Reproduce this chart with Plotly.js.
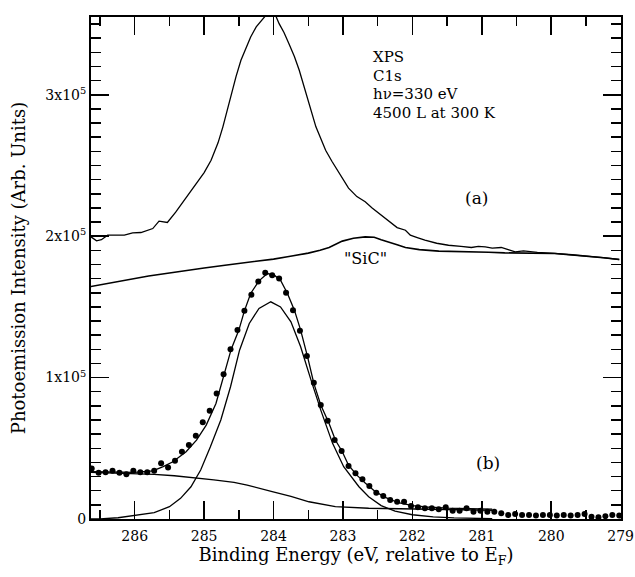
<!DOCTYPE html>
<html>
<head>
<meta charset="utf-8">
<script src="https://cdn.plot.ly/plotly-3.0.1.min.js"></script>
<style>html,body{margin:0;padding:0;background:#fff;}#chart{width:635px;height:577px;}</style>
</head>
<body>
<div id="chart"></div>
<script>
// (a) total C1s spectrum, 4500 L
const aX = [286.63,286.55,286.48,286.39,286.15,286.03,285.91,285.74,285.65,285.59,285.53,285.41,285.35,285.29,285.20,285.11,285.00,284.90,284.80,284.73,284.61,284.54,284.47,284.40,284.33,284.25,284.16,284.08,284.03,283.97,283.92,283.85,283.78,283.70,283.63,283.57,283.51,283.45,283.39,283.32,283.25,283.16,283.08,283.00,282.92,282.80,282.68,282.58,282.48,282.35,282.22,282.10,282.03,281.93,281.82,281.65,281.48,281.30,281.15,281.05,280.95,280.85,280.72,280.62,280.52,280.40,280.20,279.95,279.70,279.47,279.25,279.02];
const aY = [1.995e5,1.967e5,1.975e5,2.007e5,2.007e5,2.023e5,2.026e5,2.054e5,2.106e5,2.100e5,2.097e5,2.17e5,2.21e5,2.25e5,2.31e5,2.37e5,2.45e5,2.537e5,2.66e5,2.773e5,3.008e5,3.13e5,3.244e5,3.33e5,3.409e5,3.48e5,3.538e5,3.58e5,3.59e5,3.56e5,3.503e5,3.44e5,3.362e5,3.27e5,3.173e5,3.07e5,2.961e5,2.87e5,2.773e5,2.69e5,2.608e5,2.53e5,2.466e5,2.40e5,2.34e5,2.28e5,2.243e5,2.20e5,2.16e5,2.11e5,2.061e5,2.042e5,2.007e5,1.99e5,1.972e5,1.95e5,1.936e5,1.928e5,1.92e5,1.928e5,1.925e5,1.915e5,1.92e5,1.905e5,1.889e5,1.896e5,1.885e5,1.878e5,1.868e5,1.859e5,1.848e5,1.835e5];

// "SiC" reference spectrum
const sicX = [286.65,286.40,286.10,285.80,285.50,285.24,285.00,284.70,284.28,284.00,283.80,283.50,283.33,283.20,283.01,282.85,282.68,282.55,282.45,282.34,282.22,282.10,281.90,281.62,281.40,281.15,280.90,280.67,280.40,280.20,279.95,279.70,279.47,279.25,279.02];
const sicY = [1.642e5,1.665e5,1.694e5,1.718e5,1.740e5,1.760e5,1.775e5,1.795e5,1.818e5,1.838e5,1.854e5,1.880e5,1.901e5,1.92e5,1.965e5,1.985e5,1.995e5,1.992e5,1.975e5,1.96e5,1.94e5,1.92e5,1.905e5,1.894e5,1.890e5,1.889e5,1.886e5,1.882e5,1.880e5,1.882e5,1.878e5,1.868e5,1.859e5,1.848e5,1.835e5];

// (b) difference spectrum data points
const bDotX = [286.62,286.52,286.42,286.32,286.22,286.12,286.02,285.92,285.82,285.72,285.62,285.52,285.42,285.32,285.22,285.12,285.02,284.92,284.82,284.72,284.62,284.52,284.42,284.32,284.22,284.12,284.02,283.92,283.82,283.72,283.62,283.52,283.42,283.32,283.22,283.12,283.02,282.92,282.82,282.72,282.62,282.52,282.42,282.32,282.22,282.12,282.02,281.92,281.82,281.72,281.62,281.52,281.42,281.32,281.22,281.12,281.02,280.92,280.82,280.72,280.62,280.52,280.42,280.32,280.22,280.12,280.02,279.92,279.82,279.72,279.62,279.52,279.42,279.32,279.22,279.12,279.02];
const bDotY = [0.358e5,0.327e5,0.330e5,0.341e5,0.327e5,0.316e5,0.341e5,0.330e5,0.330e5,0.341e5,0.394e5,0.365e5,0.412e5,0.476e5,0.523e5,0.589e5,0.685e5,0.765e5,0.888e5,1.023e5,1.200e5,1.336e5,1.472e5,1.585e5,1.680e5,1.741e5,1.724e5,1.701e5,1.600e5,1.477e5,1.331e5,1.152e5,0.963e5,0.806e5,0.695e5,0.558e5,0.481e5,0.375e5,0.323e5,0.281e5,0.233e5,0.186e5,0.163e5,0.134e5,0.122e5,0.122e5,0.092e5,0.083e5,0.076e5,0.076e5,0.069e5,0.083e5,0.059e5,0.059e5,0.076e5,0.052e5,0.059e5,0.052e5,0.052e5,0.040e5,0.028e5,0.035e5,0.028e5,0.028e5,0.024e5,0.028e5,0.028e5,0.024e5,0.028e5,0.024e5,0.028e5,0.035e5,0.016e5,0.012e5,0.020e5,0.028e5,0.024e5];

// (b) fit curve
const fitX = [286.63,286.30,286.00,285.74,285.59,285.45,285.26,285.11,284.97,284.83,284.78,284.71,284.61,284.50,284.42,284.33,284.21,284.09,283.99,283.90,283.80,283.70,283.61,283.51,283.42,283.32,283.20,283.11,283.01,282.92,282.80,282.68,282.55,282.40,282.20,282.00,281.80,281.50,281.20,280.85];
const fitY = [0.334e5,0.330e5,0.330e5,0.341e5,0.370e5,0.405e5,0.476e5,0.558e5,0.664e5,0.817e5,0.90e5,1.025e5,1.201e5,1.336e5,1.472e5,1.595e5,1.684e5,1.736e5,1.724e5,1.689e5,1.595e5,1.477e5,1.336e5,1.147e5,0.959e5,0.806e5,0.676e5,0.558e5,0.476e5,0.38e5,0.31e5,0.255e5,0.20e5,0.155e5,0.115e5,0.095e5,0.085e5,0.077e5,0.072e5,0.070e5];

// (b) fitted peak component
const compX = [286.63,286.50,286.24,285.96,285.72,285.50,285.34,285.19,285.05,284.91,284.76,284.62,284.49,284.35,284.21,284.04,283.90,283.75,283.61,283.46,283.32,283.15,282.99,282.77,282.63,282.45,282.25,282.00,281.70,281.40,281.00,280.85];
const compY = [0,0,0.009e5,0.028e5,0.045e5,0.087e5,0.146e5,0.228e5,0.346e5,0.511e5,0.700e5,0.935e5,1.194e5,1.383e5,1.489e5,1.536e5,1.500e5,1.394e5,1.218e5,0.982e5,0.770e5,0.535e5,0.370e5,0.228e5,0.158e5,0.095e5,0.055e5,0.030e5,0.015e5,0.008e5,0.003e5,0.002e5];

// (b) background
const bgX = [286.63,286.20,285.72,285.43,285.14,284.86,284.57,284.38,284.02,283.75,283.49,283.11,282.63,282.00,281.50,281.00,280.85];
const bgY = [0.330e5,0.325e5,0.316e5,0.306e5,0.292e5,0.276e5,0.259e5,0.240e5,0.193e5,0.160e5,0.122e5,0.087e5,0.076e5,0.070e5,0.066e5,0.062e5,0.062e5];

const xTickVals = [286,285,284,283,282,281,280,279];
const yTickVals = [0,1e5,2e5,3e5];
const yTickText = ['0','1x10<sup>5</sup>','2x10<sup>5</sup>','3x10<sup>5</sup>'];

const FONT = 'DejaVu Serif, serif';
const lineStyle = {color:'#000', width:1.3};

const traces = [
  {x:aX, y:aY, mode:'lines', line:lineStyle, hoverinfo:'skip'},
  {x:sicX, y:sicY, mode:'lines', line:{color:'#000', width:1.6}, hoverinfo:'skip'},
  {x:bgX, y:bgY, mode:'lines', line:lineStyle, hoverinfo:'skip'},
  {x:compX, y:compY, mode:'lines', line:lineStyle, hoverinfo:'skip'},
  {x:fitX, y:fitY, mode:'lines', line:lineStyle, hoverinfo:'skip'},
  {x:bDotX, y:bDotY, mode:'markers', marker:{color:'#000', size:6}, hoverinfo:'skip'}
];

function ann(text, x, y, xanchor, size){
  return {text:text, x:x, y:y, xref:'x', yref:'y', showarrow:false, xanchor:xanchor||'center', yanchor:'middle', font:{family:FONT, size:size||15, color:'#000'}};
}

const layout = {
  width:635, height:577,
  margin:{l:91, r:14, t:17, b:58},
  paper_bgcolor:'#fff', plot_bgcolor:'#fff',
  showlegend:false,
  font:{family:FONT, color:'#000'},
  xaxis:{
    range:[286.63, 278.995], tickvals:xTickVals, ticks:'inside', ticklen:18, tickwidth:1.5, tickcolor:'#000',
    showline:true, linewidth:2, linecolor:'#000', mirror:'ticks', showgrid:false, zeroline:false,
    tickfont:{family:FONT, size:14, color:'#000'}, ticklabelstandoff:3, ticklabeloverflow:'allow',
    minor:{tickmode:'linear', tick0:279, dtick:0.5, ticks:'inside', ticklen:9, tickwidth:1.5, tickcolor:'#000', showgrid:false},
    title:{text:'Binding Energy (eV, relative to E<sub>F</sub>)', font:{family:FONT, size:18, color:'#000'}, standoff:6}
  },
  yaxis:{
    range:[0, 3.55e5], tickvals:yTickVals, ticktext:yTickText, ticks:'inside', ticklen:18, tickwidth:1.5, tickcolor:'#000',
    showline:true, linewidth:2, linecolor:'#000', mirror:'ticks', showgrid:false, zeroline:false,
    tickfont:{family:FONT, size:14, color:'#000'},
    minor:{tickmode:'linear', tick0:0, dtick:1e4, ticks:'inside', ticklen:10, tickwidth:1.5, tickcolor:'#000', showgrid:false},
    title:{text:'Photoemission Intensity (Arb. Units)', font:{family:FONT, size:18, color:'#000'}, standoff:15}
  },
  annotations:[
    ann('XPS', 282.59, 3.265e5, 'left'),
    ann('C1s', 282.59, 3.134e5, 'left'),
    ann('hν=330 eV', 282.59, 3.004e5, 'left'),
    ann('4500 L at 300 K', 282.59, 2.873e5, 'left'),
    ann('(a)', 281.08, 2.269e5, 'center', 17),
    ann('"SiC"', 282.68, 1.845e5, 'center', 16),
    ann('(b)', 280.91, 0.394e5, 'center', 17)
  ]
};

Plotly.newPlot('chart', traces, layout, {displayModeBar:false, staticPlot:true});
</script>
</body>
</html>
